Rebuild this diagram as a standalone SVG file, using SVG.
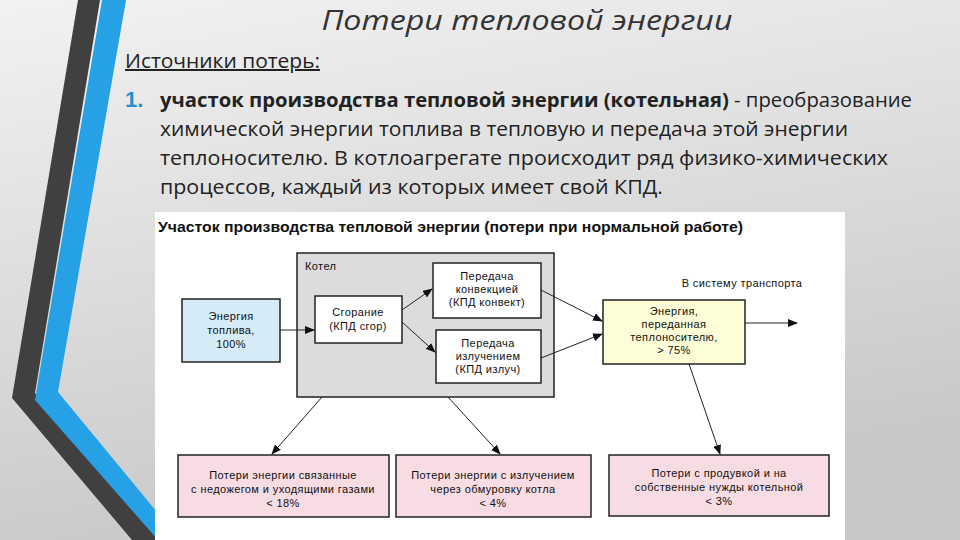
<svg xmlns="http://www.w3.org/2000/svg" width="960" height="540" viewBox="0 0 960 540">
<defs>
<linearGradient id="bg" x1="0" y1="0" x2="0.3" y2="1"><stop offset="0" stop-color="#f2f2f2"/><stop offset="1" stop-color="#c8c8c8"/></linearGradient>
<marker id="ah" markerWidth="10" markerHeight="8" refX="9" refY="4" orient="auto" markerUnits="userSpaceOnUse"><path d="M0,0 L10,4 L0,8 z" fill="#111"/></marker>
<style>
.s{font-family:"Liberation Sans",Arial,sans-serif;font-size:11px;letter-spacing:0.4px;fill:#111;text-anchor:middle}
.b{stroke:#222;stroke-width:1.5}
.c{stroke:#222;stroke-width:1;fill:none;marker-end:url(#ah)}
.m{font-family:"Open Sans","DejaVu Sans",sans-serif;font-size:20px;fill:#222}
</style>
</defs>
<rect width="960" height="540" fill="url(#bg)"/>
<polygon points="78,0 100,0 35,393 160,540 132,540 12,398" fill="#404040"/>
<polygon points="102,0 126,0 58,392 180,540 158,540 35,400" fill="#27a1e6"/>
<text x="527" y="30" font-family="Open Sans,DejaVu Sans,sans-serif" font-style="italic" font-size="28" fill="#333" text-anchor="middle" textLength="411" lengthAdjust="spacingAndGlyphs">Потери тепловой энергии</text>
<text x="125" y="68" class="m" font-size="19" text-decoration="underline" textLength="195" lengthAdjust="spacingAndGlyphs">Источники потерь:</text>
<text x="125" y="107" font-family="Liberation Sans,sans-serif" font-weight="bold" font-size="22" fill="#1f8fd1">1.</text>
<text x="160" y="107" class="m" textLength="752" lengthAdjust="spacingAndGlyphs"><tspan font-weight="bold">участок производства тепловой энергии (котельная)</tspan> - преобразование</text>
<text x="160" y="136" class="m" textLength="688" lengthAdjust="spacingAndGlyphs">химической энергии топлива в тепловую и передача этой энергии</text>
<text x="160" y="165" class="m" textLength="728" lengthAdjust="spacingAndGlyphs">теплоносителю. В котлоагрегате происходит ряд физико-химических</text>
<text x="160" y="194" class="m" textLength="503" lengthAdjust="spacingAndGlyphs">процессов, каждый из которых имеет свой КПД.</text>
<rect x="155" y="212" width="690" height="328" fill="#fff"/>
<text x="158" y="232" font-family="Liberation Sans,Arial,sans-serif" font-weight="bold" font-size="14" fill="#111" textLength="585" lengthAdjust="spacingAndGlyphs">Участок производства тепловой энергии (потери при нормальной работе)</text>
<g id="kotel"><rect x="297" y="253" width="257" height="144" fill="#dcdcdc" class="b"/><text x="305" y="270" class="s" style="text-anchor:start">Котел</text></g>
<g id="fuel"><rect x="182" y="299" width="98" height="63" fill="#d5ebf8" class="b"/><text class="s" x="231" y="320">Энергия</text><text class="s" x="231" y="334">топлива,</text><text class="s" x="231" y="348">100%</text></g>
<g id="burn"><rect x="315" y="296" width="87" height="47" fill="#fff" class="b"/><text class="s" x="358" y="316">Сгорание</text><text class="s" x="358" y="330">(КПД сгор)</text></g>
<g id="conv"><rect x="433" y="263" width="108" height="55" fill="#fff" class="b"/><text class="s" x="487" y="280">Передача</text><text class="s" x="487" y="293">конвекцией</text><text class="s" x="487" y="306">(КПД конвект)</text></g>
<g id="rad"><rect x="436" y="330" width="105" height="53" fill="#fff" class="b"/><text class="s" x="488" y="347">Передача</text><text class="s" x="488" y="360">излучением</text><text class="s" x="488" y="373">(КПД излуч)</text></g>
<g id="out"><rect x="603" y="300" width="142" height="64" fill="#fdfdd8" class="b"/><text class="s" x="674" y="315">Энергия,</text><text class="s" x="674" y="328">переданная</text><text class="s" x="674" y="341">теплоносителю,</text><text class="s" x="674" y="354">&gt; 75%</text></g>
<text class="s" x="742" y="287">В систему транспорта</text>
<g id="l1"><rect x="178" y="455" width="211" height="62" fill="#f8dce4" class="b"/><text class="s" x="283" y="479">Потери энергии связанные</text><text class="s" x="283" y="493">с недожегом и уходящими газами</text><text class="s" x="283" y="507">&lt; 18%</text></g>
<g id="l2"><rect x="396" y="455" width="195" height="62" fill="#f8dce4" class="b"/><text class="s" x="493" y="479">Потери энергии с излучением</text><text class="s" x="493" y="493">через обмуровку котла</text><text class="s" x="493" y="507">&lt; 4%</text></g>
<g id="l3"><rect x="609" y="455" width="220" height="61" fill="#f8dce4" class="b"/><text class="s" x="719" y="477">Потери с продувкой и на</text><text class="s" x="719" y="491">собственные нужды котельной</text><text class="s" x="719" y="505">&lt; 3%</text></g>
<g id="connectors">
<line class="c" x1="280" y1="330" x2="314" y2="330"/>
<line class="c" x1="402" y1="310" x2="432" y2="289"/>
<line class="c" x1="402" y1="322" x2="435" y2="352"/>
<line class="c" x1="541" y1="290" x2="602" y2="321"/>
<line class="c" x1="541" y1="358" x2="602" y2="334"/>
<line class="c" x1="745" y1="323" x2="797" y2="323"/>
<line class="c" x1="322" y1="397" x2="272" y2="454"/>
<line class="c" x1="448" y1="397" x2="500" y2="454"/>
<line class="c" x1="689" y1="364" x2="720" y2="454"/>
</g>
</svg>
